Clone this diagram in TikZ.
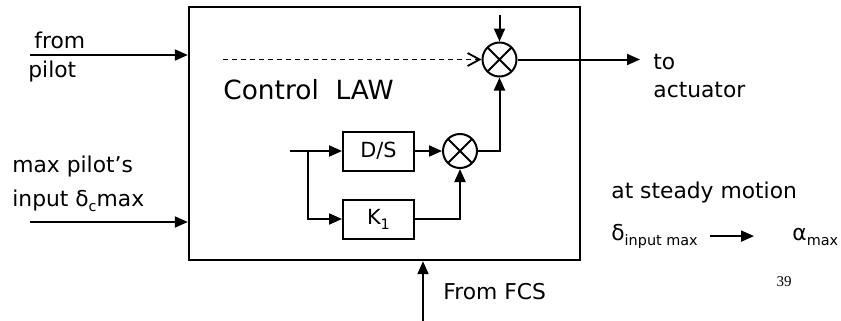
\documentclass[tikz,border=0pt]{standalone}
\usepackage{fontspec}
\setmainfont{DejaVu Sans}
\newfontfamily\pagefont{Liberation Serif}
\usetikzlibrary{arrows.meta,positioning}
\newcommand{\lowsub}[1]{\raisebox{-0.45ex}{\fontsize{7.2}{8}\selectfont #1}}

\begin{document}
\begin{tikzpicture}[
  x=0.5pt,y=-0.5pt,
  lbl/.style={font=\fontsize{10.9}{13}\selectfont,inner sep=0pt,align=left},
  blk/.style={draw,line width=1pt,minimum width=35.5pt,minimum height=19.5pt,
              inner sep=0pt,font=\fontsize{10.4}{12}\selectfont},
  sum/.style={draw,circle,line width=1pt,minimum size=17pt,inner sep=0pt,
              path picture={\draw[line width=1pt]
                (path picture bounding box.north west) -- (path picture bounding box.south east)
                (path picture bounding box.south west) -- (path picture bounding box.north east);}},
  arr/.style={-{Triangle[length=6.5pt,width=5.5pt]},line width=1pt},
  dsh/.style={-{Straight Barb[length=6pt,width=6.5pt]},line width=0.9pt,dash pattern=on 2.6pt off 1.9pt}
]
\useasboundingbox (0,0) rectangle (841,321);
\node[draw,line width=1.2pt,minimum width=195.5pt,minimum height=126.5pt] (law) at (384.5,133.5) {};
\node[font=\fontsize{13.2}{15}\selectfont,anchor=base west,inner sep=0pt] (title) at (223,99) {Control\ \ LAW};
% summing junctions and blocks
\node[sum] (top) at (499.5,59.5) {};
\node[blk] (ds) at (378.5,151) {D/S};
\node[blk,below=13.5pt of ds] (k1) {K\lowsub{1}};
\node[sum,right=13.5pt of ds] (s2) {};
% free ends
\coordinate (pilot) at (30,55);
\coordinate (maxin) at (30,222);
\coordinate (dstart) at (223,59.5);
\coordinate (topin) at (499.5,15);
\coordinate (act) at (640,59.5);
\coordinate (lawin) at (290,151);
\coordinate (split) at (308,151);
\coordinate (fcs) at (423,321);
% labels
\node[lbl,anchor=west,font=\fontsize{10.9}{14.5}\selectfont] (pilottxt) at (28,57) {\hspace*{3pt}from\\pilot};
\node[lbl,anchor=west,font=\fontsize{10.9}{17}\selectfont] (maxtxt) at (12,184) {max pilot’s\\input δ\lowsub{c}max};
\node[lbl,anchor=west,font=\fontsize{10.9}{14}\selectfont] (acttxt) at (653,76) {to\\actuator};
\node[lbl,anchor=west] (fcstxt) at (443,292) {From FCS};
\node[lbl,anchor=base west] (steady) at (611,198) {at steady motion};
\node[lbl,anchor=base west] (din) at (611,240) {δ\lowsub{input max}};
\node[lbl,anchor=base west] (amax) at (792,240) {α\lowsub{max}};
\node[font=\pagefont\fontsize{7.5}{9}\selectfont,inner sep=0pt] (pg) at (784,282) {39};
% connectors
\draw[arr] (pilot) -- (pilot -| law.west);
\draw[arr] (maxin) -- (maxin -| law.west);
\draw[dsh] (dstart) -- (top.west);
\draw[arr] (topin) -- (top.north);
\draw[arr] (top.east) -- (act);
\draw[arr] (lawin) -- (ds);
\draw[arr] (split) |- (k1);
\draw[arr] (ds) -- (s2);
\draw[arr] (k1) -| (s2);
\draw[arr] (s2) -| (top);
\draw[arr] (fcs) -- (fcs |- law.south);
\draw[arr,shorten <=6pt,shorten >=19pt] (din.east) -- (din.east -| amax.west);
\end{tikzpicture}
\end{document}
